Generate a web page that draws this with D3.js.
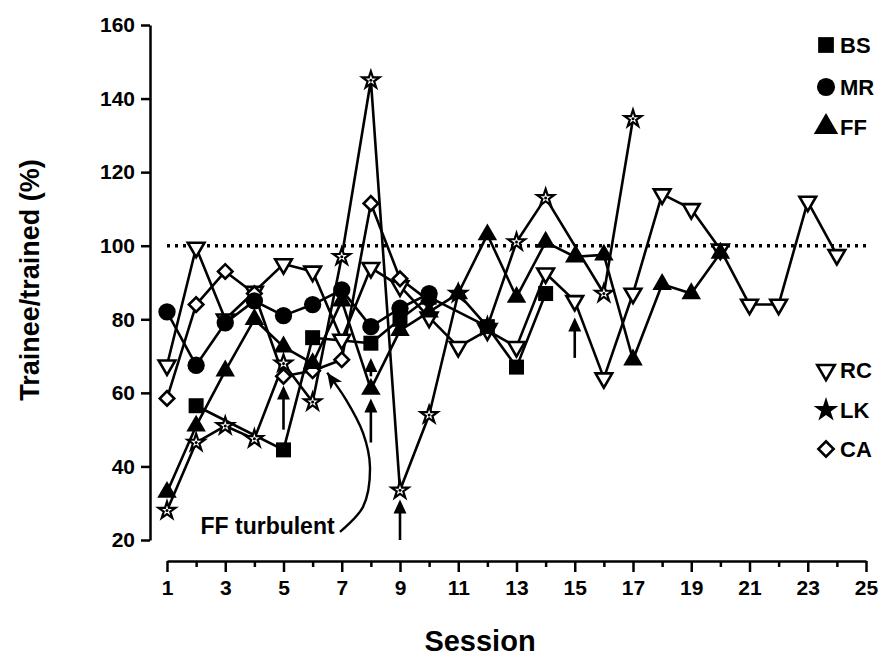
<!DOCTYPE html>
<html>
<head>
<meta charset="utf-8">
<script src="https://d3js.org/d3.v7.min.js"></script>
<style>
  body { margin: 0; background: #fff; }
  text { font-family: "Liberation Sans", Arial, sans-serif; font-weight: bold; fill: #000; }
</style>
</head>
<body>
<div id="chart"></div>
<script>
// sessions and values, one pair of arrays per trainee
const bsSessions = [2, 5, 6, 8, 9, 10, 12, 13, 14];
const bsValues   = [56.5, 44.5, 75, 73.5, 80, 86, 78, 67, 87];

const mrSessions = [1, 2, 3, 4, 5, 6, 7, 8, 9, 10];
const mrValues   = [82, 67.5, 79, 85, 81, 84, 88, 78, 83, 87];

const ffSessions = [1, 2, 3, 4, 5, 6, 7, 8, 9, 10, 11, 12, 13, 14, 15, 16, 17, 18, 19, 20];
const ffValues   = [33, 51, 66, 80, 72.5, 68, 85, 61, 77, 82, 87, 103, 86, 101, 97, 97.5, 69, 89.5, 87, 98];

const rcSessions = [1, 2, 3, 4, 5, 6, 7, 8, 9, 10, 11, 12, 13, 14, 15, 16, 17, 18, 19, 20, 21, 22, 23, 24];
const rcValues   = [67.5, 99.5, 80, 87.5, 95, 93, 74.5, 94, 89, 80.5, 72.5, 77, 72.5, 92.5, 85, 64, 87, 114, 110, 99, 84, 84, 112, 97.5];

const lkSessions = [1, 2, 3, 4, 5, 6, 7, 8, 9, 10, 11, 12, 13, 14, 16, 17];
const lkValues   = [28, 46.5, 51, 47.5, 68, 57.5, 97, 145, 33.5, 54, 87, 78, 101, 113, 87, 134.5];

const caSessions = [1, 2, 3, 4, 5, 6, 7, 8, 9, 10];
const caValues   = [58.5, 84, 93, 87, 64.5, 66, 69, 111.5, 91, 85];

// small upward arrows under FF points
const arrowSessions = [5, 8, 8, 9, 15];
const arrowFrom     = [50, 46.5, 64.5, 20, 69.5];
const arrowTo       = [62, 58.5, 69.5, 31, 80.5];

// "FF turbulent" curved pointer (session, value)
const curveSessions = [6.94, 7.73, 7.97, 7.73, 7.15, 6.5];
const curveValues   = [22.2, 29, 39.8, 49.1, 58.1, 65.5];

const yTicks = [20, 40, 60, 80, 100, 120, 140, 160];
const xTicks = d3.range(1, 26);

const width = 880, height = 658;

const svg = d3.select("#chart").append("svg")
    .attr("width", width)
    .attr("height", height);

const x = d3.scaleLinear().domain([1, 25]).range([167, 866]);
const y = d3.scaleLinear().domain([20, 160]).range([540, 25]);

// axes
const yAxis = svg.append("g")
    .attr("transform", "translate(150,0)")
    .call(d3.axisLeft(y).tickValues(yTicks).tickSize(9).tickSizeOuter(0).tickPadding(6));

const xAxis = svg.append("g")
    .attr("transform", "translate(0,561)")
    .call(d3.axisBottom(x).tickValues(xTicks).tickSize(11).tickSizeOuter(0).tickPadding(8)
        .tickFormat(d => d % 2 ? d : ""));

xAxis.selectAll(".tick line").filter(d => d % 2 === 0).attr("y2", 6);

[xAxis, yAxis].forEach(a => {
    a.selectAll("path, line").attr("stroke", "#000").attr("stroke-width", 2.5);
    a.selectAll("text").style("font-size", "21px").style("font-family", "'Liberation Sans', Arial, sans-serif")
        .style("font-weight", "bold").attr("fill", "#000");
});

// axis titles
svg.append("text")
    .attr("transform", "translate(39,280) rotate(-90)")
    .attr("text-anchor", "middle")
    .style("font-size", "27px")
    .text("Trainee/trained (%)");

svg.append("text")
    .attr("x", 480)
    .attr("y", 651)
    .attr("text-anchor", "middle")
    .style("font-size", "29px")
    .text("Session");

// 100% reference
svg.append("line")
    .attr("x1", x(1)).attr("x2", x(25))
    .attr("y1", y(100)).attr("y2", y(100))
    .attr("stroke", "#000").attr("stroke-width", 3.5)
    .attr("stroke-dasharray", "3,5");

const series = [
    { name: "RC", s: rcSessions, v: rcValues, mark: "tdown" },
    { name: "LK", s: lkSessions, v: lkValues, mark: "star" },
    { name: "CA", s: caSessions, v: caValues, mark: "diamond" },
    { name: "BS", s: bsSessions, v: bsValues, mark: "square" },
    { name: "MR", s: mrSessions, v: mrValues, mark: "circle" },
    { name: "FF", s: ffSessions, v: ffValues, mark: "tup" }
];

const line = d3.line().x(d => x(d[0])).y(d => y(d[1]));

svg.append("g").selectAll("path")
    .data(series)
    .join("path")
    .attr("d", d => line(d3.zip(d.s, d.v)))
    .attr("fill", "none")
    .attr("stroke", "#000")
    .attr("stroke-width", 2.6)
    .attr("stroke-linejoin", "round");

// marker shapes
function marker(g, type, k) {
    k = k || 1;
    if (type === "square") {
        g.append("path").attr("d", d3.symbol(d3.symbolSquare, 225 * k * k)).attr("fill", "#000");
    } else if (type === "circle") {
        g.append("path").attr("d", d3.symbol(d3.symbolCircle, 235 * k * k)).attr("fill", "#000");
    } else if (type === "tup") {
        g.append("path").attr("d", d3.symbol(d3.symbolTriangle, 165 * k * k)).attr("fill", "#000");
    } else if (type === "tdown") {
        g.append("path").attr("d", d3.symbol(d3.symbolTriangle, 120 * k * k))
            .attr("transform", "rotate(180)")
            .attr("fill", "#fff").attr("stroke", "#000").attr("stroke-width", 2.6);
    } else if (type === "diamond") {
        g.append("path").attr("d", d3.symbol(d3.symbolSquare, 105 * k * k))
            .attr("transform", "rotate(45)")
            .attr("fill", "#fff").attr("stroke", "#000").attr("stroke-width", 2.6);
    } else if (type === "star") {
        g.append("path").attr("d", d3.symbol(d3.symbolStar, 90 * k * k))
            .attr("fill", "#fff").attr("stroke", "#000").attr("stroke-width", 2.2);
        g.append("circle").attr("r", 1.5).attr("fill", "#000");
    }
}

series.forEach(sr => {
    d3.zip(sr.s, sr.v).forEach(p => {
        const g = svg.append("g").attr("transform", `translate(${x(p[0])},${y(p[1])})`);
        marker(g, sr.mark);
    });
});

// arrows
d3.range(arrowSessions.length).forEach(i => {
    const ax = x(arrowSessions[i]), y0 = y(arrowFrom[i]), y1 = y(arrowTo[i]);
    svg.append("line")
        .attr("x1", ax).attr("x2", ax)
        .attr("y1", y0).attr("y2", y1 + 8)
        .attr("stroke", "#000").attr("stroke-width", 2.6);
    svg.append("path")
        .attr("d", `M${ax},${y1}L${ax - 6.5},${y1 + 14}L${ax + 6.5},${y1 + 14}Z`)
        .attr("fill", "#000");
});

// FF turbulent annotation
const cpts = d3.zip(curveSessions, curveValues);
svg.append("path")
    .attr("d", d3.line().x(d => x(d[0])).y(d => y(d[1])).curve(d3.curveCatmullRom)(cpts))
    .attr("fill", "none").attr("stroke", "#000").attr("stroke-width", 2.4);

const tip = cpts[cpts.length - 1], prev = cpts[cpts.length - 2];
const tx = x(tip[0]), ty = y(tip[1]);
const ang = Math.atan2(ty - y(prev[1]), tx - x(prev[0])) * 180 / Math.PI;
svg.append("path")
    .attr("d", "M0,0L-16,-7L-12,0L-16,7Z")
    .attr("transform", `translate(${tx},${ty}) rotate(${ang})`)
    .attr("fill", "#000");

svg.append("text")
    .attr("x", x(2.15))
    .attr("y", y(21.6))
    .style("font-size", "23px")
    .text("FF turbulent");

// legends
const legendTop = [
    { name: "BS", mark: "square", yy: 45 },
    { name: "MR", mark: "circle", yy: 87 },
    { name: "FF", mark: "tup", yy: 127 },
    { name: "RC", mark: "tdown", yy: 370 },
    { name: "LK", mark: "star", yy: 410 },
    { name: "CA", mark: "diamond", yy: 449 }
];

legendTop.forEach(l => {
    const g = svg.append("g").attr("transform", `translate(826,${l.yy})`);
    if (l.mark === "star") {
        g.append("path").attr("d", d3.symbol(d3.symbolStar, 190)).attr("fill", "#000");
    } else {
        marker(g, l.mark, l.mark === "tup" ? 1.25 : 1.05);
    }
    svg.append("text")
        .attr("x", 840)
        .attr("y", l.yy + 8)
        .style("font-size", "22px")
        .text(l.name);
});
</script>
</body>
</html>
